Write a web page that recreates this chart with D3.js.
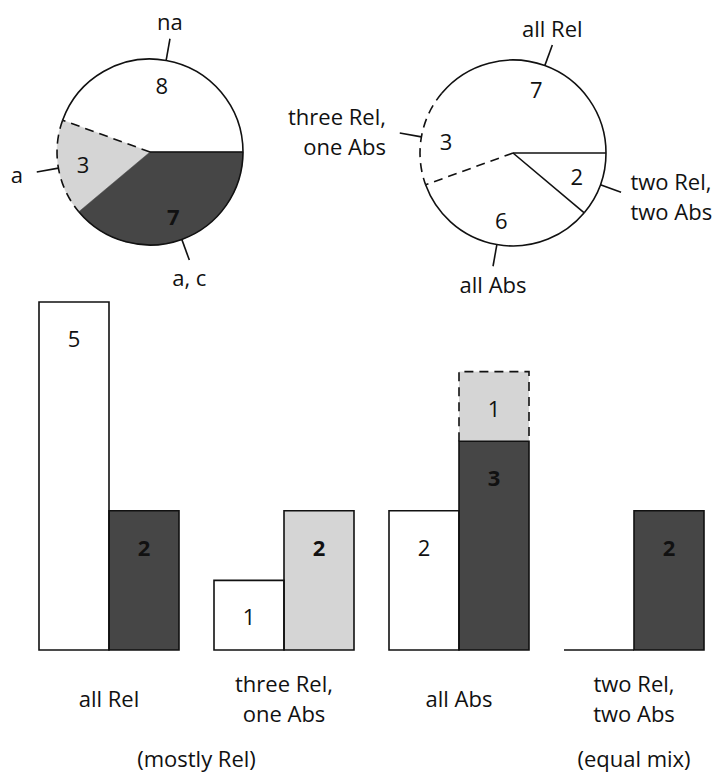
<!DOCTYPE html>
<html>
<head>
<meta charset="utf-8">
<script src="https://cdn.jsdelivr.net/npm/d3@7"></script>
<style>
  html, body { margin: 0; padding: 0; background: #ffffff; }
  svg { display: block; }
  text { font-family: "Open Sans", "Noto Sans", sans-serif; font-size: 22px; fill: #111; }
</style>
</head>
<body>
<script>
// ---------------- DATA ----------------
// Left pie
const pieACategories = ["na", "a", "a, c"];
const pieAValues = [8, 3, 7];
// Right pie
const pieBCategories = ["all Rel", "three Rel,\none Abs", "all Abs", "two Rel,\ntwo Abs"];
const pieBValues = [7, 3, 6, 2];
// Bars
const barCategories = ["all Rel", "three Rel,\none Abs", "all Abs", "two Rel,\ntwo Abs"];
const naValues = [5, 1, 2, 0];
const acValues = [2, 0, 3, 2];
const aValues  = [0, 2, 1, 0];
const groupNotes = ["(mostly Rel)", "(equal mix)"];
const groupNoteSpans = [[0, 1], [3, 3]];

// ---------------- STYLE ----------------
const W = 724, H = 772;
const DARK = "#464646", LIGHT = "#d5d5d5", WHITE = "#ffffff";
const kindColor = d3.scaleOrdinal().domain(["na", "a", "a, c"]).range([WHITE, LIGHT, DARK]);
const DASH = "9,6";
const STROKE_W = 1.6;

const svg = d3.select("body").append("svg").attr("width", W).attr("height", H);
svg.append("rect").attr("width", W).attr("height", H).attr("fill", "#fff");

function multiline(sel, str, lh) {
  const lines = str.split("\n");
  const y0 = -(lines.length - 1) / 2 * lh;
  lines.forEach((ln, i) => {
    sel.append("tspan").attr("x", sel.attr("x")).attr("dy", i === 0 ? y0 : lh).text(ln);
  });
}

// ---------------- PIES ----------------
function drawPie(cfg) {
  const { cx, cy, r, cats, vals, fill, arcStyles, edgeStyles, boldIdx } = cfg;
  const pie = d3.pie().sort(null).value(d => d.v)
    .startAngle(Math.PI / 2).endAngle(Math.PI / 2 - 2 * Math.PI);
  const arcs = pie(cats.map((c, i) => ({ c, v: vals[i], i })));
  const g = svg.append("g").attr("transform", `translate(${cx},${cy})`);
  const arcGen = d3.arc().innerRadius(0).outerRadius(r);

  g.selectAll("path.slice").data(arcs).join("path")
    .attr("class", "slice")
    .attr("d", arcGen)
    .attr("fill", d => fill(d.data.i))
    .attr("stroke", d => fill(d.data.i))
    .attr("stroke-width", 0.5);

  // radial edges (at each slice's start)
  arcs.forEach((d, i) => {
    const st = edgeStyles[i];
    if (st === "none") return;
    const a = d.startAngle;
    g.append("line")
      .attr("x1", 0).attr("y1", 0)
      .attr("x2", r * Math.sin(a)).attr("y2", -r * Math.cos(a))
      .attr("stroke", "#111").attr("stroke-width", STROKE_W)
      .attr("stroke-dasharray", st === "dashed" ? DASH : null);
  });

  // arc outlines
  arcs.forEach((d, i) => {
    const p = d3.path();
    p.arc(0, 0, r, d.startAngle - Math.PI / 2, d.endAngle - Math.PI / 2, d.endAngle < d.startAngle);
    g.append("path").attr("d", p.toString())
      .attr("fill", "none").attr("stroke", "#111").attr("stroke-width", STROKE_W)
      .attr("stroke-dasharray", arcStyles[i] === "dashed" ? DASH : null);
  });

  // values inside
  arcs.forEach((d, i) => {
    const m = (d.startAngle + d.endAngle) / 2;
    const rr = r * 0.73;
    g.append("text")
      .attr("x", rr * Math.sin(m)).attr("y", -rr * Math.cos(m))
      .attr("text-anchor", "middle").attr("dominant-baseline", "central")
      .attr("font-weight", boldIdx.includes(i) ? 700 : 400)
      .text(d.data.v);
  });

  // leaders and outer labels
  arcs.forEach((d, i) => {
    const m = (d.startAngle + d.endAngle) / 2;
    const s = Math.sin(m), c = Math.cos(m);
    const L = r + 22;
    g.append("line")
      .attr("x1", r * s).attr("y1", -r * c)
      .attr("x2", L * s).attr("y2", -L * c)
      .attr("stroke", "#111").attr("stroke-width", STROKE_W);
    let anchor, tx, ty;
    if (Math.abs(s) < 0.5) {
      anchor = "middle"; tx = L * s; ty = -(r + 40) * c;
    } else if (s < 0) {
      anchor = "end"; tx = (r + 36) * s; ty = -(r + 36) * c;
    } else {
      anchor = "start"; tx = (r + 32) * s; ty = -(r + 32) * c;
    }
    const t = g.append("text")
      .attr("x", tx).attr("y", ty)
      .attr("text-anchor", anchor).attr("dominant-baseline", "central");
    multiline(t, d.data.c, 30);
  });
}

drawPie({
  cx: 150, cy: 152, r: 93,
  cats: pieACategories, vals: pieAValues,
  fill: i => kindColor(pieACategories[i]),
  arcStyles: ["solid", "dashed", "solid"],
  edgeStyles: ["solid", "dashed", "none"],
  boldIdx: [2]
});

drawPie({
  cx: 513, cy: 153, r: 93,
  cats: pieBCategories, vals: pieBValues,
  fill: i => WHITE,
  arcStyles: ["solid", "dashed", "solid", "solid"],
  edgeStyles: ["solid", "none", "dashed", "solid"],
  boldIdx: []
});

// ---------------- BARS ----------------
const x = d3.scaleBand().domain(barCategories).range([39, 704]).paddingInner(0.2).paddingOuter(0);
const xi = d3.scaleBand().domain(["left", "right"]).range([0, x.bandwidth()]);
const y = d3.scaleLinear().domain([0, 5]).range([650, 302]);

const segs = [];
barCategories.forEach((cat, i) => {
  segs.push({ cat, col: "left", kind: "na", y0: 0, y1: naValues[i], v: naValues[i] });
  if (acValues[i] > 0 || aValues[i] === 0)
    segs.push({ cat, col: "right", kind: "a, c", y0: 0, y1: acValues[i], v: acValues[i] });
  if (aValues[i] > 0)
    segs.push({ cat, col: "right", kind: "a", y0: acValues[i], y1: acValues[i] + aValues[i], v: aValues[i], dashed: acValues[i] > 0 });
});

const bars = svg.append("g");
// fills first
bars.selectAll("rect.fill").data(segs.filter(d => d.v > 0)).join("rect")
  .attr("class", "fill")
  .attr("x", d => x(d.cat) + xi(d.col))
  .attr("y", d => y(d.y1))
  .attr("width", xi.bandwidth())
  .attr("height", d => y(d.y0) - y(d.y1))
  .attr("fill", d => kindColor(d.kind));
// outlines
bars.selectAll("path.outline").data(segs).join("path")
  .attr("class", "outline")
  .attr("d", d => {
    const x0 = x(d.cat) + xi(d.col), x1 = x0 + xi.bandwidth();
    const yb = y(d.y0), yt = y(d.y1);
    if (d.v === 0) return `M${x0},${yb}H${x1}`;
    if (d.dashed) return `M${x0},${yb}V${yt}H${x1}V${yb}`;
    return `M${x0},${yb}V${yt}H${x1}V${yb}Z`;
  })
  .attr("fill", "none").attr("stroke", "#111").attr("stroke-width", STROKE_W)
  .attr("stroke-dasharray", d => d.dashed ? DASH : null);
// values
bars.selectAll("text.val").data(segs.filter(d => d.v > 0)).join("text")
  .attr("class", "val")
  .attr("x", d => x(d.cat) + xi(d.col) + xi.bandwidth() / 2)
  .attr("y", d => y(d.y1) + 36)
  .attr("text-anchor", "middle").attr("dominant-baseline", "central")
  .attr("font-weight", d => d.kind === "na" || d.dashed ? 400 : 700)
  .text(d => d.v);

// category labels
barCategories.forEach(cat => {
  const t = svg.append("text")
    .attr("x", x(cat) + x.bandwidth() / 2).attr("y", 698)
    .attr("text-anchor", "middle").attr("dominant-baseline", "central");
  multiline(t, cat, 30);
});

// group notes
groupNotes.forEach((note, k) => {
  const [a, b] = groupNoteSpans[k];
  const xa = x(barCategories[a]), xb = x(barCategories[b]) + x.bandwidth();
  svg.append("text")
    .attr("x", (xa + xb) / 2).attr("y", 758)
    .attr("text-anchor", "middle").attr("dominant-baseline", "central")
    .text(note);
});
</script>
</body>
</html>
